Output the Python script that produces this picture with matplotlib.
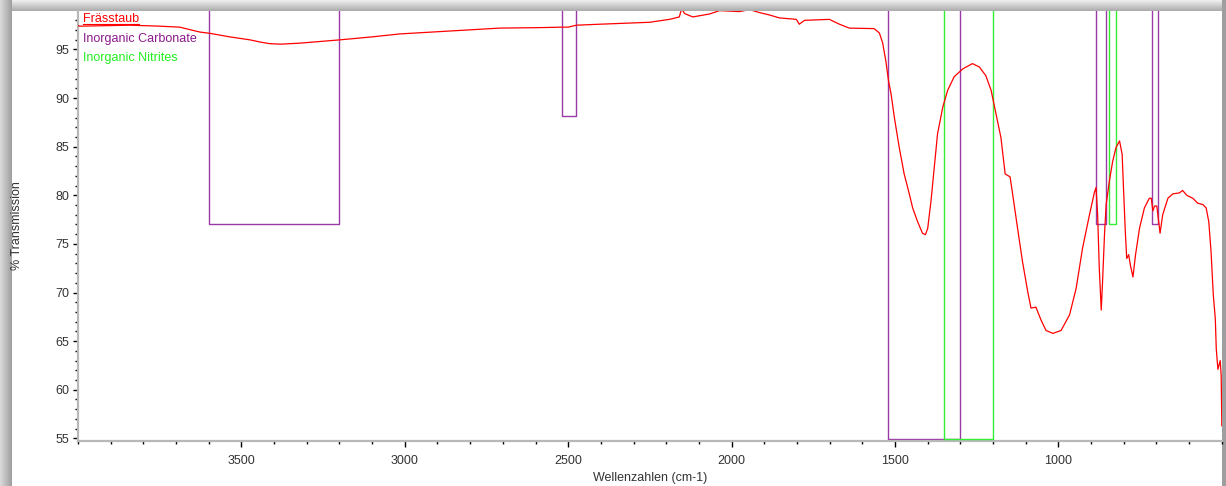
import numpy as np
import matplotlib
matplotlib.use('Agg')
import matplotlib.pyplot as plt
from matplotlib.lines import Line2D
from matplotlib.transforms import IdentityTransform
from matplotlib.ticker import MultipleLocator

plt.rcParams['font.family'] = ['Liberation Sans', 'DejaVu Sans']

# spectrum "Frässtaub"
wavenumber = [4000, 3994, 3842, 3750, 3689, 3628, 3594, 3536, 3475, 3440, 3413, 3380, 3322,
              3196, 3100, 3016, 2863, 2710, 2588, 2517, 2500, 2475, 2404, 2251, 2190,
              2160, 2153, 2144, 2119, 2068, 2037, 1976, 1945, 1915, 1884, 1854, 1802,
              1793, 1777, 1701, 1670, 1640, 1564, 1548, 1538, 1528, 1520, 1512, 1502,
              1487, 1472, 1456, 1446, 1431, 1416, 1407, 1400, 1390, 1380, 1370, 1354,
              1339, 1319, 1293, 1263, 1242, 1222, 1206, 1191, 1176, 1163, 1148, 1140,
              1125, 1110, 1094, 1084, 1069, 1053, 1038, 1017, 992, 966, 946, 926,
              905, 890, 885, 880, 875, 869, 865, 859, 854, 844, 834, 824,
              813, 805, 801, 795, 791, 785, 780, 772, 764, 752, 737, 722,
              716, 711, 706, 699, 689, 681, 665, 650, 630, 620, 607, 589,
              574, 558, 548, 540, 533, 526, 520, 517, 512, 505, 502, 500]
transmission = [97.45, 97.4, 97.5, 97.4, 97.3, 96.8, 96.65, 96.3, 96.0, 95.75, 95.6, 95.55, 95.65,
                96.0, 96.3, 96.6, 96.9, 97.2, 97.25, 97.3, 97.3, 97.5, 97.6, 97.8, 98.1,
                98.35, 99.2, 98.7, 98.35, 98.65, 99.0, 98.9, 99.1, 98.8, 98.55, 98.25, 98.1,
                97.6, 98.0, 98.1, 97.6, 97.2, 97.15, 96.7, 95.7, 93.8, 91.8, 90.4, 88.0,
                84.9, 82.2, 80.1, 78.7, 77.3, 76.1, 75.95, 76.6, 79.4, 82.85, 86.3, 89.06,
                90.8, 92.2, 93.0, 93.55, 93.2, 92.3, 90.8, 88.4, 85.95, 82.2, 81.9, 80.1,
                76.6, 73.2, 70.1, 68.4, 68.5, 67.15, 66.1, 65.8, 66.1, 67.7, 70.4, 74.6,
                78.0, 80.3, 80.8, 78.0, 72.5, 68.2, 71.1, 76.0, 79.05, 81.5, 83.5, 84.9,
                85.6, 84.2, 80.8, 76.0, 73.5, 73.9, 72.85, 71.6, 73.9, 76.6, 78.7, 79.7,
                79.7, 78.4, 78.9, 78.9, 76.1, 78.0, 79.7, 80.15, 80.25, 80.5, 80.0, 79.7,
                79.2, 79.05, 78.7, 77.3, 74.2, 69.7, 67.3, 64.2, 62.1, 63.0, 61.45, 56.3]

# reference bands (left edge, right edge, depth)
carb_left = [3600, 2520, 1520, 886, 715]
carb_right = [3200, 2475, 1300, 855, 695]
carb_bottom = [77.0, 88.2, 54.9, 77.0, 77.0]
nitr_left = [1350, 845]
nitr_right = [1200, 825]
nitr_bottom = [54.9, 77.0]

W, H = 1226, 486
fig = plt.figure(figsize=(W / 100, H / 100), dpi=100)

# window shadow frame
bg = np.ones((H, W, 3))
for i in range(12):
    bg[:, i, :] = 0.85 - 0.22 * i / 11
for j in range(11):
    bg[j, 12:, :] = 0.93 - 0.25 * j / 10
bg[:, 1222:, :] = 0.62
fig.figimage(bg, 0, 0, zorder=-1)

ax = fig.add_axes([78 / W, 1 - 441.3 / H, 1144 / W, (441.3 - 11) / H])
ax.set_facecolor('white')

for l, r, b in zip(carb_left, carb_right, carb_bottom):
    ax.plot([l, l, r, r], [101, b, b, 101], color='#9a3aa6', lw=1.0, zorder=2)
for l, r, b in zip(nitr_left, nitr_right, nitr_bottom):
    ax.plot([l, l, r, r], [101, b, b, 101], color='#33ee33', lw=1.0, zorder=3)

ax.plot(wavenumber, transmission, color='#ff0000', lw=0.9, zorder=4)

ax.set_xlim(4000, 499.5)
ax.set_ylim(54.7, 98.96)
ax.xaxis.set_major_locator(MultipleLocator(500))
ax.xaxis.set_minor_locator(MultipleLocator(100))
ax.yaxis.set_major_locator(MultipleLocator(5))
ax.yaxis.set_minor_locator(MultipleLocator(1))
ax.set_xticks([3500, 3000, 2500, 2000, 1500, 1000])
ax.tick_params(axis='x', which='major', length=4, width=1, pad=6,
               labelsize=9, labelcolor='#333333')
ax.tick_params(axis='x', which='minor', length=2.5, width=1)
ax.tick_params(axis='y', which='major', length=3.5, width=1, pad=3,
               labelsize=9, labelcolor='#333333')
ax.tick_params(axis='y', which='minor', length=2, width=1)

for s in ['top', 'right']:
    ax.spines[s].set_visible(False)
for s in ['left', 'bottom']:
    ax.spines[s].set_color('#b8b8b8')
    ax.spines[s].set_linewidth(1.6)

fig.text(650 / W, 1 - 478 / H, 'Wellenzahlen (cm-1)', ha='center', va='center',
         fontsize=9, color='#333333')
fig.text(17 / W, 1 - 226 / H, '% Transmission', ha='center', va='center',
         rotation=90, fontsize=9, color='#333333')

t1 = fig.text(83 / W, 1 - 19 / H, 'Frässtaub', ha='left', va='center',
              fontsize=9, color='#ff0000')
fig.text(83 / W, 1 - 38.5 / H, 'Inorganic Carbonate', ha='left', va='center',
         fontsize=9, color='#8b1a8b')
fig.text(83 / W, 1 - 57.5 / H, 'Inorganic Nitrites', ha='left', va='center',
         fontsize=9, color='#22ee22')

fig.canvas.draw()
bb = t1.get_window_extent()
fig.add_artist(Line2D([bb.x0, bb.x1], [bb.y0 + 0.5, bb.y0 + 0.5], color='#ff0000',
                      lw=0.8, transform=IdentityTransform()))

fig.savefig('out.png', dpi=100)
